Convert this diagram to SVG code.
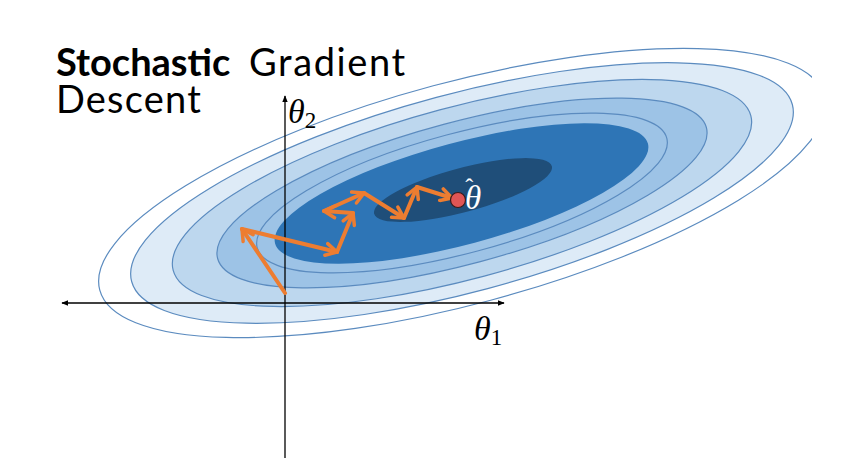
<svg xmlns="http://www.w3.org/2000/svg" width="858" height="458" viewBox="0 0 858 458">
<style>
.ct{stroke:#5b8bbf;stroke-width:1.2}
.ar{stroke:#ed7d31;stroke-width:4;fill:none;stroke-linecap:round}
.ax{stroke:#000;stroke-width:1.3;fill:none}
.title{font-family:Lato,"Liberation Sans",sans-serif;font-size:38px;fill:#000}
.math{font-family:"Liberation Serif","DejaVu Serif",serif;font-style:italic}
</style>
<defs>
<clipPath id="clip"><rect x="0" y="0" width="812" height="458"/></clipPath>
<marker id="head" viewBox="0 0 16 16" refX="13" refY="8" markerWidth="16" markerHeight="16" markerUnits="userSpaceOnUse" orient="auto">
<path d="M2,2 L13,8 L2,14" fill="none" stroke="#ed7d31" stroke-width="3.5" stroke-linecap="round" stroke-linejoin="round"/>
</marker>
<marker id="axh" viewBox="0 0 10 10" refX="9" refY="5" markerWidth="7" markerHeight="7" markerUnits="userSpaceOnUse" orient="auto">
<path d="M0,1 L10,5 L0,9 Z" fill="#000"/>
</marker>
</defs>
<g id="contours" clip-path="url(#clip)">
<ellipse cx="462" cy="193" rx="375" ry="111" transform="rotate(-15 462 193)" fill="#fff" class="ct"/>
<ellipse cx="462" cy="193" rx="342" ry="99" transform="rotate(-15 462 193)" fill="#deebf7" class="ct"/>
<ellipse cx="462" cy="193" rx="299" ry="86" transform="rotate(-15 462 193)" fill="#bdd7ee" class="ct"/>
<ellipse cx="462" cy="193" rx="253" ry="71" transform="rotate(-15 462 193)" fill="#9dc3e6" class="ct"/>
<ellipse cx="462" cy="193" rx="212" ry="60" transform="rotate(-15 462 193)" fill="none" class="ct"/>
<ellipse cx="461.5" cy="193.5" rx="193" ry="51" transform="rotate(-15 461.5 193.5)" fill="#2e75b6"/>
<ellipse cx="463" cy="190" rx="92" ry="22" transform="rotate(-15 463 190)" fill="#1f4e79"/>
</g>
<g id="axes">
<line class="ax" x1="285" y1="458" x2="285" y2="96" marker-end="url(#axh)"/>
<line class="ax" x1="285" y1="303" x2="504" y2="303" marker-end="url(#axh)"/>
<line class="ax" x1="285" y1="303" x2="62" y2="303" marker-end="url(#axh)"/>
</g>
<g id="connectors">
<line class="ar" x1="285" y1="293" x2="242" y2="229" marker-end="url(#head)"/>
<line class="ar" x1="242" y1="229" x2="337" y2="252" marker-end="url(#head)"/>
<line class="ar" x1="337" y1="252" x2="353" y2="213" marker-end="url(#head)"/>
<line class="ar" x1="353" y1="213" x2="324" y2="211" marker-end="url(#head)"/>
<line class="ar" x1="324" y1="211" x2="364" y2="193" marker-end="url(#head)"/>
<line class="ar" x1="364" y1="193" x2="404" y2="218" marker-end="url(#head)"/>
<line class="ar" x1="404" y1="218" x2="417" y2="187" marker-end="url(#head)"/>
<line class="ar" x1="417" y1="187" x2="452" y2="198" marker-end="url(#head)"/>
</g>
<g id="optimum">
<circle cx="458" cy="200" r="7.5" fill="#e05555" stroke="#3a1a1a" stroke-width="1.2"/>
<text class="math" x="465" y="209" font-size="33" fill="#fff">θ<tspan font-style="normal" font-size="24" dx="-16" dy="-14">ˆ</tspan></text>
</g>
<g id="labels">
<text class="title" x="56" y="76"><tspan font-weight="bold">Stochastic</tspan><tspan x="249" letter-spacing="1.6">Gradient</tspan><tspan x="56" y="113" letter-spacing="1.2">Descent</tspan></text>
<text class="math" x="288" y="123" font-size="34">θ<tspan font-style="normal" font-size="23" dy="5">2</tspan></text>
<text class="math" x="474" y="340" font-size="34">θ<tspan font-style="normal" font-size="23" dy="5">1</tspan></text>
</g>
</svg>
